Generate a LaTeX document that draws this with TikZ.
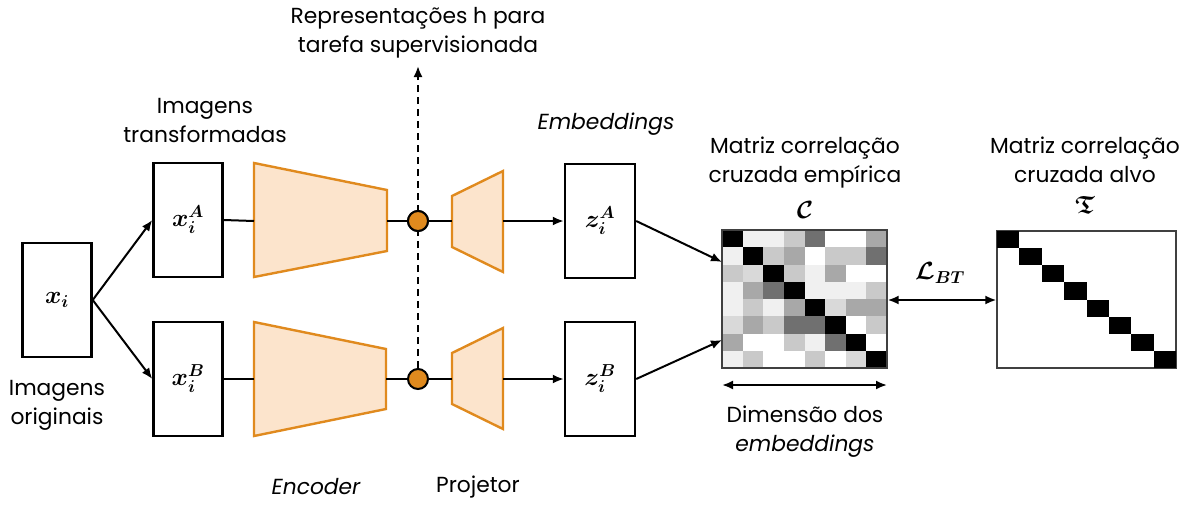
\documentclass[tikz,border=0pt]{standalone}
\usepackage{amsmath,amssymb,bm}
\usepackage{fontspec}
\setmainfont{Poppins}
\usetikzlibrary{arrows.meta}

\definecolor{orangeline}{HTML}{E08A1E}
\definecolor{orangefill}{HTML}{FCE4CC}
\colorlet{cK}{black}
\colorlet{cV}{black!6}
\colorlet{cS}{black!15}
\colorlet{cL}{black!21}
\colorlet{cM}{black!34}
\colorlet{cD}{black!56}
\colorlet{cW}{white}

\tikzset{
  databox/.style={draw, line width=2.4pt, minimum width=69pt, minimum height=114pt, inner sep=0pt},
  matbox/.style={draw=black!75, line width=1.3pt, inner sep=0pt},
  netshape/.style={draw=orangeline, fill=orangefill, line width=2.4pt, line join=miter},
  tap/.style={circle, draw, fill=orangeline, line width=2pt, minimum size=20pt, inner sep=0pt},
  conn/.style={line width=2pt},
  arr/.style={conn, -{Latex[length=11pt,width=9pt]}},
  darr/.style={conn, {Latex[length=11pt,width=9pt]}-{Latex[length=11pt,width=9pt]}},
  lbl/.style={font=\fontsize{21.8}{29}\selectfont, align=center, inner sep=0pt},
  mathlbl/.style={font=\fontsize{25}{27}\selectfont, inner sep=0pt},
}

\begin{document}
\begin{tikzpicture}[x=1pt, y=-1pt]
\useasboundingbox (0,0) rectangle (1190,507);

% data boxes
\node[databox] (xi) at (57,300) {};
\node[mathlbl] at (xi) {$\bm{x_i}$};
\node[databox] (xA) at (188,220) {};
\node[mathlbl] at (xA) {$\bm{x_i^A}$};
\node[databox] (xB) at (188,379) {};
\node[mathlbl] at (xB) {$\bm{x_i^B}$};
\node[databox, minimum width=70pt] (zA) at (600,221) {};
\node[mathlbl] at (zA) {$\bm{z_i^A}$};
\node[databox, minimum width=70pt] (zB) at (600,379) {};
\node[mathlbl] at (zB) {$\bm{z_i^B}$};

% encoders and projectors
\draw[netshape] (254,163) -- (387,190) -- (387,251) -- (254,277) -- cycle;
\draw[netshape] (254,322) -- (386,349) -- (386,409) -- (254,436) -- cycle;
\draw[netshape] (452,196) -- (503,171) -- (503,272) -- (452,247) -- cycle;
\draw[netshape] (452,353) -- (503,328) -- (503,429) -- (452,404) -- cycle;
\coordinate (encAin) at (254,221);
\coordinate (encAout) at (387,221);
\coordinate (encBin) at (254,379);
\coordinate (encBout) at (386,379);
\coordinate (prjAin) at (452,221);
\coordinate (prjAout) at (503,221);
\coordinate (prjBin) at (452,379);
\coordinate (prjBout) at (503,379);

% taps for the representations
\coordinate (hup) at (418,66);
\node[tap] (tA) at (418,221) {};
\node[tap] (tB) at (418,379) {};
\draw[conn, dashed, dash pattern=on 7pt off 5pt, -{Latex[length=11pt,width=9pt]}] (tB.north) -- (hup);
\node[tap] at (418,221) {};

% connectors
\draw[arr] (xi.east) -- (xA.west);
\draw[arr] (xi.east) -- (xB.west);
\draw[conn] (xA.east) -- (encAin);
\draw[conn] (xB.east) -- (encBin);
\draw[conn] (encAout) -- (tA.west);
\draw[conn] (encBout) -- (tB.west);
\draw[conn] (tA.east) -- (prjAin);
\draw[conn] (tB.east) -- (prjBin);
\draw[arr] (prjAout) -- (zA.west);
\draw[arr] (prjBout) -- (zB.west);

% empirical cross-correlation matrix
\node[matbox, minimum width=165pt, minimum height=138pt] (C) at (804.5,299) {};
\foreach \rowlist [count=\r] in {
  {K,V,V,L,D,W,W,M},
  {V,K,L,M,W,L,L,D},
  {L,S,K,L,V,M,W,W},
  {V,M,D,K,V,V,V,L},
  {V,L,V,M,K,S,M,M},
  {S,M,L,D,D,K,W,L},
  {M,W,W,L,V,D,K,W},
  {V,L,W,W,L,W,S,K}} {
  \foreach \v [count=\k] in \rowlist {
    \fill[c\v] ({722+(\k-1)*20.625},{230+(\r-1)*17.25}) rectangle +(20.625,17.25);
  }
}
\node[matbox, minimum width=165pt, minimum height=138pt] at (804.5,299) {};

% target cross-correlation matrix
\node[matbox, minimum width=179pt, minimum height=137pt] (T) at (1086.5,299.5) {};
\foreach \k in {1,...,8} {
  \fill[black] ({997+(\k-1)*22.375},{231+(\k-1)*17.125}) rectangle +(22.375,17.125);
}

\coordinate (cinA) at (722,262);
\coordinate (cinB) at (722,340);
\draw[arr] (zA.east) -- (cinA);
\draw[arr] (zB.east) -- (cinB);
\draw[darr] (C.east |- 0,300) -- (T.west |- 0,300);
\coordinate (dimL) at (722,385);
\coordinate (dimR) at (887,385);
\draw[darr] (dimL) -- (dimR);

% labels
\node[lbl] (hlab) at (418,33) {Representações h para\\tarefa supervisionada};
\node[lbl] (imgT) at (205,120) {Imagens\\transformadas};
\node[lbl] (imgO) at (57,405) {Imagens\\originais};
\node[lbl] (emb) at (606,124) {\itshape Embeddings};
\node[lbl] (clab) at (805,163) {Matriz correlação\\cruzada empírica};
\node[mathlbl] (csym) at (805,210) {$\bm{\mathcal{C}}$};
\node[lbl] (tlab) at (1085,160) {Matriz correlação\\cruzada alvo};
\node[mathlbl] (tsym) at (1085,205) {$\bm{\mathfrak{T}}$};
\node[mathlbl] (lbt) at (940,273) {$\bm{\mathcal{L}_{BT}}$};
\node[lbl] (dimlab) at (805,432) {Dimensão dos\\\itshape embeddings};
\node[lbl] (enc) at (316,487) {\itshape Encoder};
\node[lbl] (prj) at (478,487) {Projetor};
\end{tikzpicture}
\end{document}
